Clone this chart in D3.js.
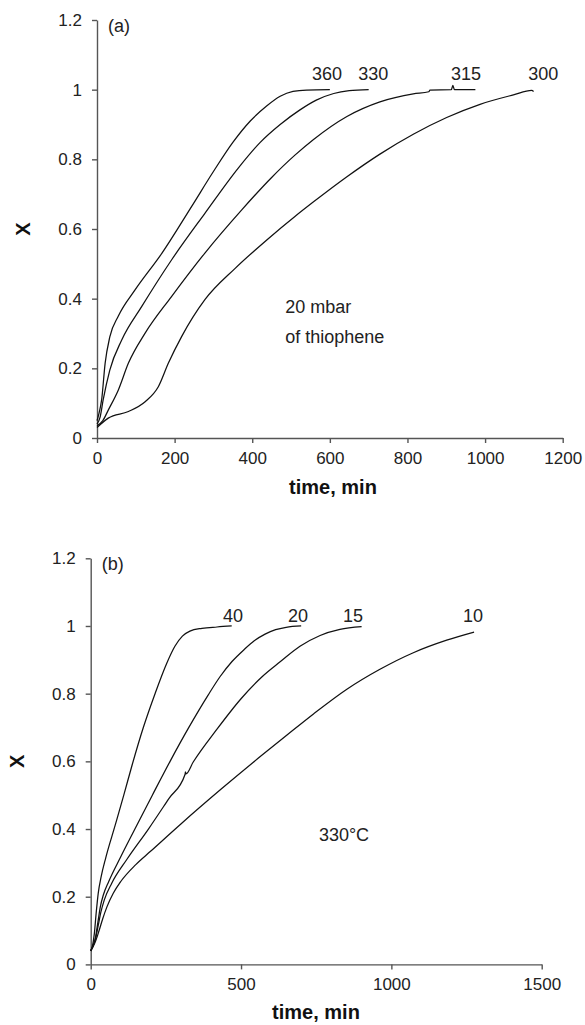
<!DOCTYPE html>
<html>
  <head>
    <style>
      body { margin: 0; background: #fff; }
      svg { font-family: "Liberation Sans", Arial, sans-serif; }
      .curve { fill: none; stroke: #111; stroke-width: 1.25px; }
      .axis path, .axis line { stroke: #555; stroke-width: 1.4px; }
      .axis text { font-size: 17px; fill: #222; font-family: "Liberation Sans", Arial, sans-serif; }
      .lbl { font-size: 18px; fill: #222; }
      .title { font-size: 20px; font-weight: bold; fill: #111; }
    </style>
    <script src="https://d3js.org/d3.v7.min.js"></script>
  </head>
  <body>
    <svg width="585" height="1025"></svg>

    <script>
      // panel (a): 20 mbar thiophene, temperatures
      const namesA = ['360', '330', '315', '300'];
      const a360 = [[0,0.05],[5,0.07],[12,0.11],[21,0.215],[33,0.29],[55,0.35],[98,0.425],[167,0.53],[244,0.665],[300,0.765],[351,0.85],[395,0.91],[437,0.953],[472,0.981],[505,0.995],[540,0.999],[600,1.0]];
      const a330 = [[0,0.04],[8,0.06],[16,0.11],[33,0.195],[64,0.282],[115,0.377],[192,0.511],[278,0.645],[364,0.775],[420,0.848],[472,0.9],[523,0.942],[565,0.97],[610,0.989],[650,0.997],[700,1.0]];
      const a315 = [[0,0.035],[15,0.05],[29,0.08],[55,0.138],[81,0.215],[124,0.301],[192,0.406],[278,0.531],[373,0.655],[450,0.748],[510,0.812],[558,0.857],[644,0.923],[729,0.965],[815,0.988],[855,0.994],[858,0.999],[913,1.0],[917,1.012],[921,1.0],[975,1.0]];
      const a300 = [[0,0.03],[29,0.057],[81,0.076],[124,0.104],[158,0.147],[184,0.215],[218,0.291],[278,0.397],[356,0.487],[442,0.573],[510,0.636],[558,0.678],[644,0.75],[729,0.815],[815,0.872],[901,0.92],[987,0.958],[1073,0.985],[1120,0.998],[1125,0.995]];
      const labelsA = [['360', 554, 1.029], ['330', 673, 1.029], ['315', 912, 1.029], ['300', 1111, 1.029]];
      const notesA = [['20 mbar', 485, 0.359], ['of thiophene', 485, 0.273]];
      const xTicksA = [0, 200, 400, 600, 800, 1000, 1200];

      // panel (b): 330 °C, thiophene pressures
      const namesB = ['40', '20', '15', '10'];
      const b40 = [[0,0.04],[6,0.055],[12,0.09],[18,0.15],[25,0.21],[35,0.26],[50,0.315],[81,0.41],[110,0.5],[138,0.59],[175,0.7],[214,0.8],[253,0.89],[280,0.94],[305,0.97],[330,0.985],[370,0.993],[420,0.997],[469,1.0]];
      const b20 = [[0,0.04],[8,0.055],[16,0.08],[24,0.125],[32,0.17],[42,0.205],[60,0.245],[100,0.318],[147,0.4],[205,0.5],[264,0.6],[325,0.698],[390,0.795],[430,0.85],[470,0.895],[510,0.93],[545,0.957],[580,0.976],[615,0.989],[650,0.996],[700,1.0]];
      const b15 = [[0,0.04],[8,0.055],[16,0.075],[25,0.115],[34,0.155],[45,0.19],[70,0.24],[120,0.31],[192,0.4],[260,0.49],[314,0.562],[315,0.569],[317,0.563],[341,0.598],[420,0.695],[500,0.785],[570,0.85],[630,0.894],[696,0.94],[763,0.972],[829,0.99],[901,0.998]];
      const b10 = [[0,0.04],[8,0.052],[16,0.068],[28,0.1],[40,0.135],[54,0.17],[75,0.21],[100,0.245],[150,0.295],[200,0.335],[300,0.415],[434,0.518],[568,0.617],[656,0.68],[741,0.74],[852,0.813],[962,0.872],[1073,0.921],[1184,0.958],[1275,0.982]];
      const labelsB = [['40', 440, 1.0115], ['20', 656, 1.0115], ['15', 839, 1.0115], ['10', 1238, 1.0115]];
      const notesB = [['330°C', 759, 0.3645]];
      const xTicksB = [0, 500, 1000, 1500];

      const yTicks = [0, 0.2, 0.4, 0.6, 0.8, 1, 1.2];

      const svg = d3.select('svg');

      function panel(cfg) {
        const x = d3.scaleLinear().domain(cfg.xDomain).range([cfg.left, cfg.right]);
        const y = d3.scaleLinear().domain([0, 1.2]).range([cfg.bottom, cfg.top]);
        const g = svg.append('g');

        g.append('g')
          .attr('class', 'axis')
          .attr('transform', `translate(0,${cfg.bottom})`)
          .call(d3.axisBottom(x).tickValues(cfg.xTicks).tickSize(5).tickSizeOuter(0).tickPadding(9).tickFormat(d => String(d)));

        g.append('g')
          .attr('class', 'axis')
          .attr('transform', `translate(${cfg.left},0)`)
          .call(d3.axisLeft(y).tickValues(yTicks).tickSize(5).tickSizeOuter(0).tickPadding(10).tickFormat(d => String(d)));

        const line = d3.line()
          .x(d => x(d[0]))
          .y(d => y(d[1]))
          .curve(d3.curveMonotoneX);

        g.selectAll('path.curve')
          .data(cfg.series)
          .join('path')
          .attr('class', 'curve')
          .attr('d', line);

        g.selectAll('text.clbl')
          .data(cfg.labels)
          .join('text')
          .attr('class', 'lbl clbl')
          .attr('x', d => x(d[1]))
          .attr('y', d => y(d[2]))
          .text(d => d[0]);

        g.selectAll('text.note')
          .data(cfg.notes)
          .join('text')
          .attr('class', 'lbl note')
          .attr('x', d => x(d[1]))
          .attr('y', d => y(d[2]))
          .text(d => d[0]);

        g.append('text')
          .attr('class', 'lbl')
          .attr('x', cfg.left + 11)
          .attr('y', cfg.top + 12)
          .text(cfg.tag);

        g.append('text')
          .attr('class', 'title')
          .attr('text-anchor', 'middle')
          .attr('transform', `translate(${cfg.yTitleX},${y(0.6)})rotate(-90)`)
          .attr('dy', '0.35em')
          .text('X');

        g.append('text')
          .attr('class', 'title')
          .attr('text-anchor', 'middle')
          .attr('x', cfg.xTitleX)
          .attr('y', cfg.xTitleY)
          .text('time, min');
      }

      panel({
        xDomain: [0, 1200], xTicks: xTicksA,
        left: 97, right: 562.7, top: 20, bottom: 438,
        series: [a360, a330, a315, a300], labels: labelsA, notes: notesA,
        tag: '(a)', yTitleX: 23, xTitleX: 333, xTitleY: 494
      });

      panel({
        xDomain: [0, 1500], xTicks: xTicksB,
        left: 90.7, right: 541.7, top: 558.3, bottom: 964.4,
        series: [b40, b20, b15, b10], labels: labelsB, notes: notesB,
        tag: '(b)', yTitleX: 17, xTitleX: 316, xTitleY: 1019
      });
    </script>
  </body>
</html>
